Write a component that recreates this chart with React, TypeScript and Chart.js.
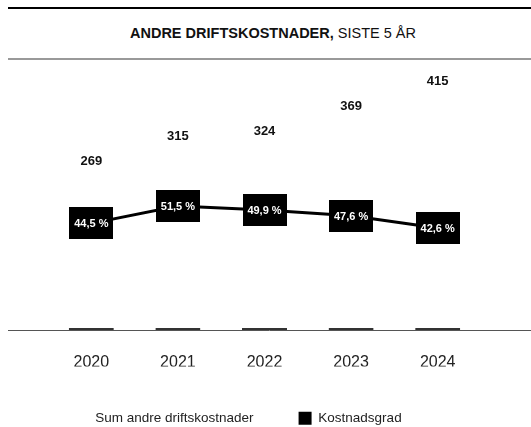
import React, { useEffect, useRef } from 'react';
import { Chart, registerables } from 'chart.js';

Chart.register(...registerables);

const categories = ['2020', '2021', '2022', '2023', '2024'];
const sumAndreDriftskostnader = [269, 315, 324, 369, 415];
const kostnadsgrad = [44.5, 51.5, 49.9, 47.6, 42.6];
const seriesNames = ['Sum andre driftskostnader', 'Kostnadsgrad'];
const titleBold = 'ANDRE DRIFTSKOSTNADER,';
const titleNormal = 'SISTE 5 ÅR';

const FONT = '"Liberation Sans", Arial, Helvetica, sans-serif';

export default function App() {
  const ref = useRef<HTMLCanvasElement>(null);

  useEffect(() => {
    if (!ref.current) return;
    const box = document.createElement('canvas');
    box.width = 44;
    box.height = 32;
    const bctx = box.getContext('2d')!;
    bctx.fillStyle = '#000';
    bctx.fillRect(0, 0, 44, 32);

    const baselinePlugin = {
      id: 'baseline',
      beforeDatasetsDraw(chart: any) {
        const ctx = chart.ctx;
        const y = chart.chartArea.bottom + 0.5;
        ctx.save();
        ctx.strokeStyle = '#555';
        ctx.lineWidth = 1;
        ctx.beginPath();
        ctx.moveTo(0, y);
        ctx.lineTo(chart.width, y);
        ctx.stroke();
        ctx.restore();
      },
    };

    const labelsPlugin = {
      id: 'valueLabels',
      afterDatasetsDraw(chart: any) {
        const ctx = chart.ctx;
        ctx.save();
        ctx.textAlign = 'center';
        ctx.textBaseline = 'middle';
        const bm = chart.getDatasetMeta(0);
        ctx.font = `bold 13px ${FONT}`;
        ctx.fillStyle = '#111';
        bm.data.forEach((el: any, i: number) => {
          ctx.fillText(String(chart.data.datasets[0].data[i]), el.x, el.y - 21);
        });
        const lm = chart.getDatasetMeta(1);
        ctx.font = `bold 11px ${FONT}`;
        ctx.fillStyle = '#fff';
        lm.data.forEach((el: any, i: number) => {
          const v = chart.data.datasets[1].data[i] as number;
          ctx.fillText(v.toFixed(1).replace('.', ',') + ' %', el.x, el.y + 1);
        });
        ctx.restore();
      },
    };

    Chart.defaults.font.family = FONT;

    const chart = new Chart(ref.current, {
      type: 'bar',
      data: {
        labels: categories,
        datasets: [
          {
            type: 'bar',
            label: seriesNames[0],
            data: sumAndreDriftskostnader,
            backgroundColor: 'rgba(0,0,0,0)',
            borderColor: '#333',
            borderWidth: { top: 0, left: 0, right: 0, bottom: 2 },
            borderSkipped: false,
            categoryPercentage: 0.8,
            barPercentage: 0.65,
            yAxisID: 'y',
            order: 2,
          } as any,
          {
            type: 'line',
            label: seriesNames[1],
            data: kostnadsgrad,
            borderColor: '#000',
            backgroundColor: '#000',
            borderWidth: 3,
            pointStyle: box as any,
            pointRadius: 3,
            pointHoverRadius: 3,
            tension: 0,
            yAxisID: 'y1',
            order: 1,
          } as any,
        ],
      },
      options: {
        responsive: false,
        animation: false,
        events: [],
        layout: { padding: { top: 10, left: 22.5, right: 50, bottom: 0 } },
        scales: {
          x: {
            grid: { display: false, drawTicks: false },
            border: { display: false },
            ticks: { color: '#222', font: { size: 16 }, padding: 22.5 },
            afterFit: (s: any) => {
              s.height = 36.5;
            },
          },
          y: {
            position: 'left',
            min: 0,
            max: 474.5,
            grid: { display: false },
            border: { display: false },
            ticks: { display: false },
            afterFit: (s: any) => {
              s.width = 17.5;
            },
          },
          y1: {
            position: 'right',
            display: false,
            min: 1.34,
            max: 106.6,
          },
        },
        plugins: {
          title: { display: false },
          tooltip: { enabled: false },
          legend: {
            position: 'bottom',
            align: 'start',
            labels: {
              color: '#222',
              font: { size: 13.5 },
              boxWidth: 13,
              boxHeight: 13,
              padding: 45,
              sort: (a: any, b: any) => a.datasetIndex - b.datasetIndex,
              generateLabels: (c: any) => {
                const items = (Chart.defaults.plugins.legend.labels as any).generateLabels(c);
                return items.map((it: any) => ({
                  ...it,
                  fillStyle: it.datasetIndex === 0 ? 'rgba(0,0,0,0)' : '#000',
                  strokeStyle: 'rgba(0,0,0,0)',
                  lineWidth: 0,
                }));
              },
            },
          },
        },
      },
      plugins: [baselinePlugin, labelsPlugin],
    });

    return () => chart.destroy();
  }, []);

  return (
    <div
      style={{
        position: 'absolute',
        left: 8,
        right: 0,
        top: 7,
        height: 420,
        overflow: 'hidden',
        fontFamily: FONT,
        background: '#fff',
      }}
    >
      <div
        style={{
          borderTop: '2px solid #000',
          borderBottom: '2px solid #999',
          height: 48,
          paddingBottom: 1,
          display: 'flex',
          alignItems: 'center',
          justifyContent: 'center',
          fontSize: 14.5,
          color: '#111',
          paddingLeft: 7,
        }}
      >
        <span>
          <b>{titleBold}</b> {titleNormal}
        </span>
      </div>
      <canvas ref={ref} width={523} height={375} style={{ display: 'block' }} />
    </div>
  );
}
